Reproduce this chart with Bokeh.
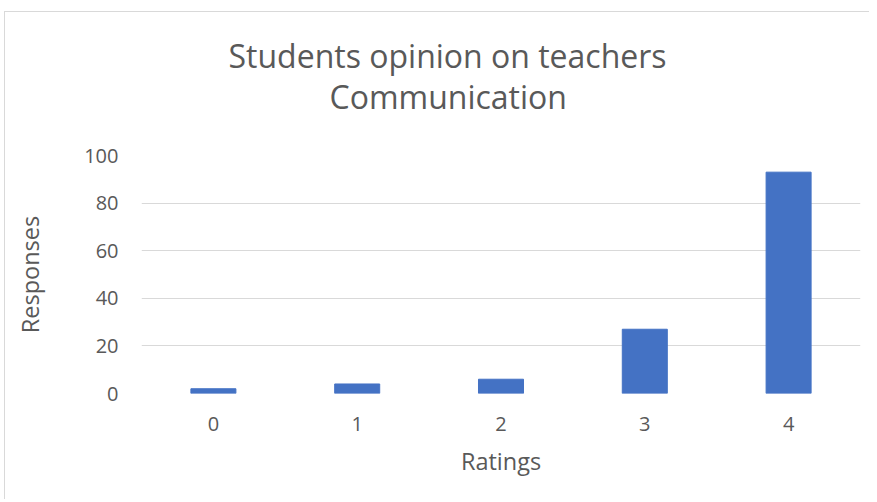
from bokeh.plotting import figure
from bokeh.models import ColumnDataSource, Range1d, FactorRange, Title, FixedTicker
from bokeh.embed import file_html
from bokeh.resources import INLINE

ratings = ["0", "1", "2", "3", "4"]
responses = [2, 4, 6, 27, 93]
title_lines = ["Students opinion on teachers", "Communication"]
title_offsets = [87, 188]
y_ticks = [0, 20, 40, 60, 80, 100]

FONT = "Open Sans"
TXT = "#595959"
GRID = "#d9d9d9"

src = ColumnDataSource(dict(r=ratings, v=responses))

p = figure(width=865, height=488, output_backend="svg", toolbar_location=None,
           x_range=FactorRange(*ratings, range_padding=0), y_range=Range1d(0, 100),
           min_border_left=136, min_border_right=10, min_border_top=143, min_border_bottom=107)
p.margin = (11, 0, 0, 4)
p.styles = {"border-left": "1px solid #d9d9d9", "border-top": "1px solid #d9d9d9"}

p.vbar(x="r", top="v", width=0.313, source=src, color="#4472C4")

p.outline_line_color = None
p.background_fill_color = "white"
p.border_fill_color = "white"

p.xgrid.grid_line_color = None
p.ygrid.grid_line_color = GRID
p.ygrid.grid_line_width = 1
p.yaxis.ticker = FixedTicker(ticks=y_ticks)

for ax in (p.xaxis[0], p.yaxis[0]):
    ax.axis_line_color = None
    ax.major_tick_line_color = None
    ax.minor_tick_line_color = None
    ax.major_tick_out = 0
    ax.major_tick_in = 0
    ax.major_label_text_font = FONT
    ax.major_label_text_font_size = "20px"
    ax.major_label_text_color = TXT
    ax.axis_label_text_font = FONT
    ax.axis_label_text_font_size = "23.5px"
    ax.axis_label_text_color = TXT
    ax.axis_label_text_font_style = "normal"

p.xaxis.axis_label = "Ratings"
p.xaxis.major_label_standoff = 23
p.xaxis.axis_label_standoff = 11
p.yaxis.axis_label = "Responses"
p.yaxis.major_label_standoff = 23
p.yaxis.axis_label_standoff = 35

# spacer between the frame and the title block
p.add_layout(Title(text=" ", text_font=FONT, text_font_size="26px", standoff=0), "above")
# closest-to-frame line first
title_standoffs = [-8, 0]
for t, off, so in reversed(list(zip(title_lines, title_offsets, title_standoffs))):
    p.add_layout(Title(text=t, align="left", offset=off, text_font=FONT,
                       text_font_size="32px", text_color=TXT, text_font_style="normal",
                       vertical_align="bottom", standoff=so), "above")

open("out.html", "w").write(file_html(p, INLINE))
